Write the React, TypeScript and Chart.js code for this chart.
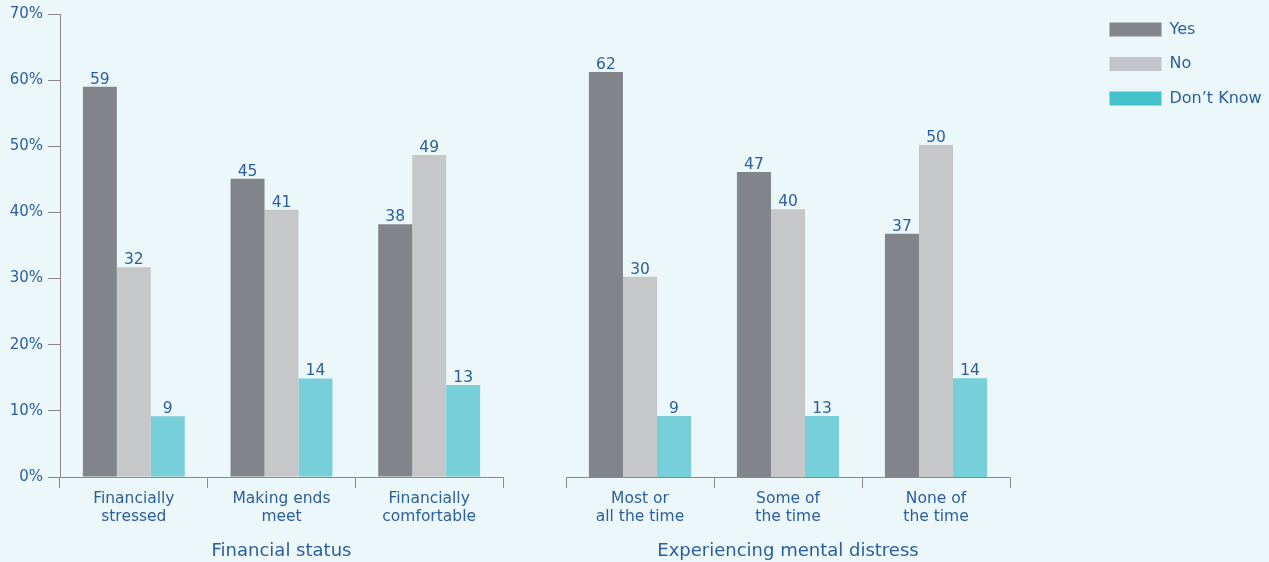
import React, { useEffect, useRef } from "react";
import { Chart, registerables } from "chart.js";

Chart.register(...registerables);

// ---------- data ----------
const seriesNames = ["Yes", "No", "Don\u2019t Know"];

const financialTitle = "Financial status";
const financialCategories = [
  ["Financially", "stressed"],
  ["Making ends", "meet"],
  ["Financially", "comfortable"],
];
const financialYes = [59.0, 45.1, 38.2];
const financialNo = [31.7, 40.4, 48.7];
const financialDontKnow = [9.2, 14.9, 13.9];
const financialYesLabels = [59, 45, 38];
const financialNoLabels = [32, 41, 49];
const financialDontKnowLabels = [9, 14, 13];

const distressTitle = "Experiencing mental distress";
const distressCategories = [
  ["Most or", "all the time"],
  ["Some of", "the time"],
  ["None of", "the time"],
];
const distressYes = [61.1, 46.0, 36.7];
const distressNo = [30.2, 40.4, 50.1];
const distressDontKnow = [9.2, 9.2, 14.9];
const distressYesLabels = [62, 47, 37];
const distressNoLabels = [30, 40, 50];
const distressDontKnowLabels = [9, 13, 14];

const yMin = 0;
const yMax = 70;
const yStep = 10;

// ---------- styles ----------
const FONT = "'DejaVu Sans', 'Open Sans', sans-serif";
const BG = "#ebf7f8";
const TEXT_BLUE = "#2c5e9e";
const AXIS_GRAY = "#8a8a8a";
const barColors = ["#818589", "#c6c7c9", "#77cfd9"];
const legendColors = ["#838689", "#c3c4c7", "#45c3cc"];

const valueLabelPlugin = {
  id: "valueLabels",
  afterDatasetsDraw(chart: any, _args: any, opts: any) {
    const labels: number[][] = opts.labels || [];
    const ctx = chart.ctx;
    ctx.save();
    ctx.font = `15.5px ${FONT}`;
    ctx.fillStyle = TEXT_BLUE;
    ctx.textAlign = "center";
    ctx.textBaseline = "alphabetic";
    chart.data.datasets.forEach((_ds: any, i: number) => {
      const meta = chart.getDatasetMeta(i);
      meta.data.forEach((el: any, j: number) => {
        const txt = labels[i] && labels[i][j] != null ? String(labels[i][j]) : "";
        ctx.fillText(txt, el.x, el.y - 3);
      });
    });
    ctx.restore();
  },
};

function makeBarConfig(
  categories: string[][],
  series: number[][],
  labels: number[][],
  title: string,
  showY: boolean,
  padding: { left: number; right: number; top: number; bottom: number }
): any {
  return {
    type: "bar",
    data: {
      labels: categories,
      datasets: series.map((d, i) => ({
        label: seriesNames[i],
        data: d,
        backgroundColor: barColors[i],
        borderWidth: 0,
        categoryPercentage: 0.69,
        barPercentage: 1.0,
      })),
    },
    options: {
      animation: false,
      responsive: false,
      events: [],
      layout: { padding },
      scales: {
        x: {
          type: "category",
          offset: true,
          grid: {
            offset: true,
            drawOnChartArea: false,
            drawTicks: true,
            tickLength: 11,
            color: AXIS_GRAY,
            lineWidth: 1,
          },
          border: { display: true, color: AXIS_GRAY, width: 1 },
          ticks: {
            color: TEXT_BLUE,
            padding: 2,
            maxRotation: 0,
            autoSkip: false,
            font: { family: FONT, size: 15.5, lineHeight: 1.16 },
          },
          title: {
            display: true,
            text: title,
            color: TEXT_BLUE,
            font: { family: FONT, size: 18, lineHeight: 1.2 },
            padding: { top: 0, bottom: 0 },
          },
          afterFit: (scale: any) => {
            scale.height = 85;
          },
        },
        y: {
          display: showY,
          min: yMin,
          max: yMax,
          grid: {
            drawOnChartArea: false,
            drawTicks: true,
            tickLength: 12,
            color: AXIS_GRAY,
            lineWidth: 1,
          },
          border: { display: true, color: AXIS_GRAY, width: 1 },
          ticks: {
            stepSize: yStep,
            color: TEXT_BLUE,
            padding: 5,
            font: { family: FONT, size: 15 },
            callback: (v: any) => `${v}%`,
          },
          afterFit: (scale: any) => {
            scale.width = showY ? 60 : 0;
          },
        },
      },
      plugins: {
        legend: { display: false },
        tooltip: { enabled: false },
        valueLabels: { labels },
      },
    },
    plugins: [valueLabelPlugin],
  };
}

function makeLegendConfig(): any {
  return {
    type: "bar",
    data: {
      labels: [],
      datasets: seriesNames.map((n, i) => ({
        label: n,
        data: [],
        backgroundColor: legendColors[i],
        borderWidth: 0,
      })),
    },
    options: {
      animation: false,
      responsive: false,
      events: [],
      layout: { padding: 0 },
      scales: { x: { display: false }, y: { display: false } },
      plugins: {
        tooltip: { enabled: false },
        legend: {
          position: "left",
          align: "start",
          labels: {
            boxWidth: 52,
            boxHeight: 14,
            padding: 18.5,
            color: TEXT_BLUE,
            font: { family: FONT, size: 16 },
          },
        },
      },
    },
  };
}

export default function App() {
  const leftRef = useRef<HTMLCanvasElement>(null);
  const rightRef = useRef<HTMLCanvasElement>(null);
  const legendRef = useRef<HTMLCanvasElement>(null);

  useEffect(() => {
    const charts: Chart[] = [];
    if (leftRef.current) {
      charts.push(
        new Chart(
          leftRef.current,
          makeBarConfig(
            financialCategories,
            [financialYes, financialNo, financialDontKnow],
            [financialYesLabels, financialNoLabels, financialDontKnowLabels],
            financialTitle,
            true,
            { left: 0, right: 37, top: 13, bottom: 0 }
          )
        )
      );
    }
    if (rightRef.current) {
      charts.push(
        new Chart(
          rightRef.current,
          makeBarConfig(
            distressCategories,
            [distressYes, distressNo, distressDontKnow],
            [distressYesLabels, distressNoLabels, distressDontKnowLabels],
            distressTitle,
            false,
            { left: 36, right: 20, top: 13, bottom: 0 }
          )
        )
      );
    }
    if (legendRef.current) {
      charts.push(new Chart(legendRef.current, makeLegendConfig()));
    }
    return () => charts.forEach((c) => c.destroy());
  }, []);

  return (
    <div
      style={{
        position: "fixed",
        left: 0,
        top: 0,
        width: 1269,
        height: 562,
        background: BG,
        overflow: "hidden",
      }}
    >
      <canvas
        ref={leftRef}
        width={540}
        height={562}
        style={{ position: "absolute", left: 0, top: 0 }}
      />
      <canvas
        ref={rightRef}
        width={500}
        height={562}
        style={{ position: "absolute", left: 530, top: 0 }}
      />
      <canvas
        ref={legendRef}
        width={400}
        height={130}
        style={{ position: "absolute", left: 1091, top: 3 }}
      />
    </div>
  );
}
